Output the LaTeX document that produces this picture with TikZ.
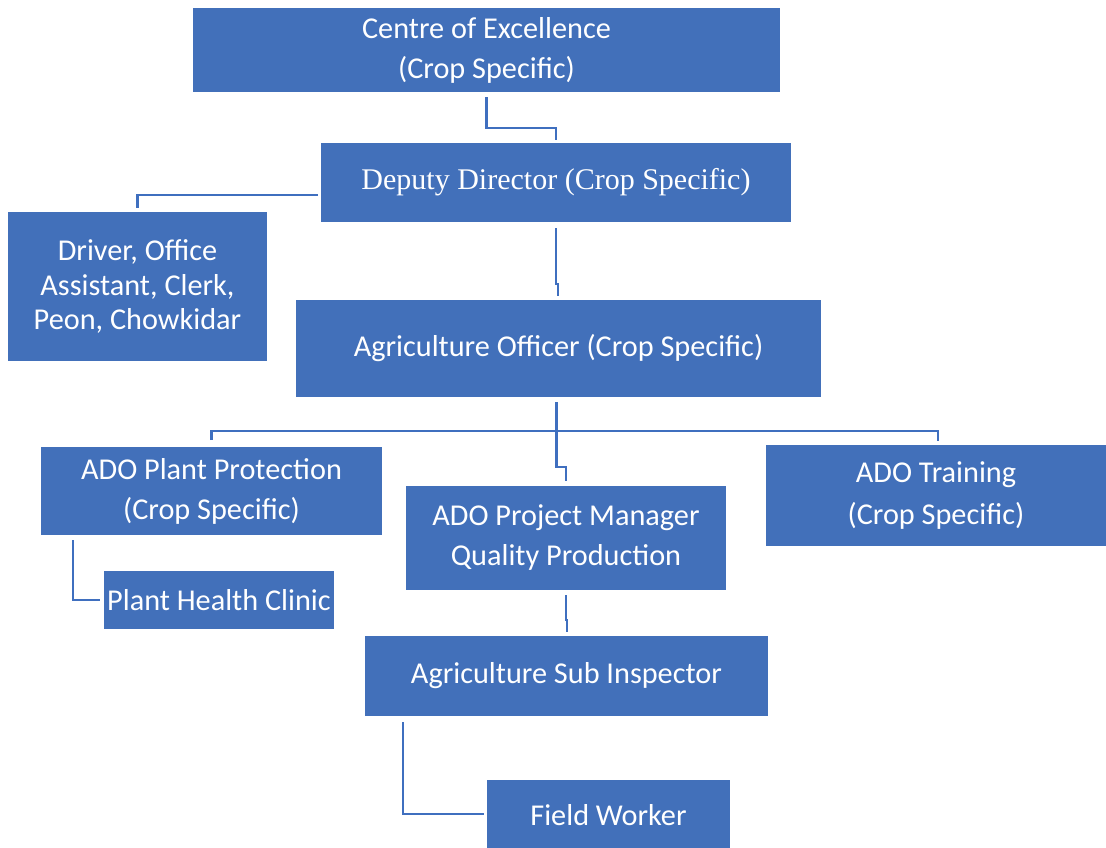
\documentclass[tikz,border=0pt]{standalone}
\usepackage{fontspec}
\setmainfont{Carlito}
\newfontfamily\ddserif{Liberation Serif}
\usetikzlibrary{calc}
\definecolor{boxblue}{HTML}{4270BA}
\definecolor{lineblue}{HTML}{3F6FBF}
\tikzset{
  box/.style={fill=boxblue, text=white, inner sep=0pt, outer sep=0pt, align=center,
    font=\fontsize{22.7}{30}\selectfont},
  wh/.style 2 args={minimum width=#1*0.75pt, minimum height=#2*0.75pt},
  conn/.style={draw=lineblue, line width=2.1pt}
}
\begin{document}
\begin{tikzpicture}[x=0.75pt,y=-0.75pt]
\useasboundingbox (0,0) rectangle (1106,847);
\node[box, wh={587}{84}] (coe) at (486.5,50) {Centre of Excellence\\(Crop Specific)};
\node[box, wh={470}{79}, font=\ddserif\fontsize{22.5}{30}\selectfont] (dd) at (556,182.5) {Deputy Director (Crop Specific)};
\node[box, wh={259}{149}, font=\fontsize{22.7}{26}\selectfont] (drv) at (137.5,286.5) {Driver, Office\\Assistant, Clerk,\\Peon, Chowkidar};
\node[box, wh={525}{97}] (ao) at (558.5,348.5) {Agriculture Officer (Crop Specific)};
\node[box, wh={341}{88}] (ppc) at (211.5,491) {ADO Plant Protection\\(Crop Specific)};
\node[box, wh={320}{104}] (apm) at (566,538) {ADO Project Manager\\Quality Production};
\node[box, wh={340}{101}, font=\fontsize{22.7}{32}\selectfont] (trn) at (936,495.5) {ADO Training\\(Crop Specific)};
\node[box, wh={230}{58}] (phc) at (219,600) {Plant Health Clinic};
\node[box, wh={403}{80}] (asi) at (566.5,676) {Agriculture Sub Inspector};
\node[box, wh={243}{70}] (fw) at (608.5,815) {Field Worker};

\draw[conn] ($(coe.south)+(0,5)$) |- ($(dd.north)+(0,-15)$) -- ($(dd.north)+(0,-3)$);
\draw[conn] ($(dd.west)+(-3,12.5)$) -| ($(drv.north)+(0,-4)$);
\draw[conn] ($(dd.south)+(0,6)$) -- ($(dd.south)+(0,62)$) -- ($(ao.north)+(-0.5,-16)$) -- ($(ao.north)+(-0.5,-4)$);
\draw[conn] ($(ppc.north)+(0,-7)$) |- ($(trn.north)+(2,-14)$) -- ($(trn.north)+(2,-4)$);
\draw[conn] ($(ao.south)+(-2,5)$) |- ($(apm.north)+(0,-19)$) -- ($(apm.north)+(0,-5)$);
\draw[conn] ($(ppc.south west)+(32,5)$) |- ($(phc.west)+(-4,0)$);
\draw[conn] ($(apm.south)+(0,5)$) -- ($(apm.south)+(0,30)$) -- ($(asi.north)+(0.5,-16)$) -- ($(asi.north)+(0.5,-4)$);
\draw[conn] ($(asi.south west)+(38,6)$) |- ($(fw.west)+(-3,-1)$);
\end{tikzpicture}
\end{document}
